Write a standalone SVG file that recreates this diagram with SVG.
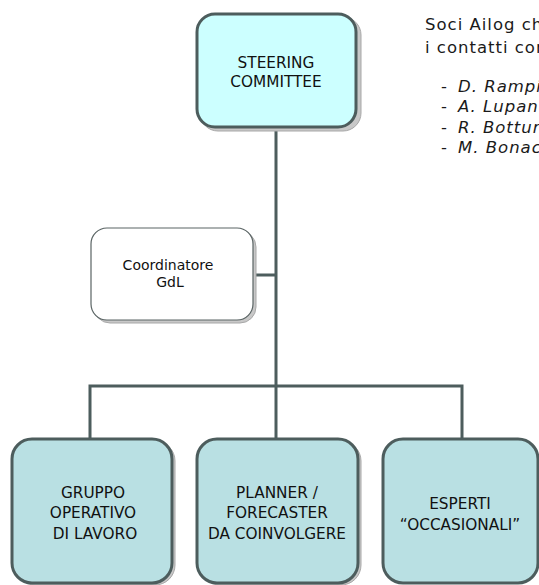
<svg xmlns="http://www.w3.org/2000/svg" width="539" height="585" viewBox="0 0 539 585">
  <defs>
    <style>
      .shadow { fill: #c8c8c8; stroke: #a8a8a8; stroke-width: 1; }
      .box { stroke: #4d5d5d; stroke-width: 3; }
      .top { fill: #ccffff; }
      .team { fill: #b9e0e3; }
      .coord { fill: #ffffff; stroke: #5a6464; stroke-width: 1.2; }
      .lbl { font-family: "DejaVu Sans", Verdana, sans-serif; font-size: 15.3px; fill: #111; text-anchor: middle; }
      .small { font-size: 14px; }
      .note { font-family: "DejaVu Sans", Verdana, sans-serif; font-size: 16.5px; letter-spacing: 1px; fill: #1a1a1a; }
      .it { font-style: italic; }
      .conn { fill: none; stroke: #4d5d5d; stroke-width: 3; }
    </style>
  </defs>
  <rect width="539" height="585" fill="#ffffff"/>

  <!-- connectors -->
  <g id="connectors">
    <path class="conn" d="M276,128 V386"/>
    <path class="conn" d="M90,438 V386 H462 V438"/>
    <path class="conn" d="M276,386 V438"/>
    <path class="conn" d="M253,275 H276"/>
  </g>

  <!-- top node -->
  <g id="steering">
    <rect class="shadow" x="200" y="17" width="161" height="114" rx="18"/>
    <rect class="box top" x="197" y="14" width="159" height="113" rx="18"/>
    <text class="lbl" x="276" y="68">STEERING</text>
    <text class="lbl" x="276" y="87">COMMITTEE</text>
  </g>

  <g id="coordinatore">
    <rect class="shadow" x="94" y="231" width="162" height="92" rx="16"/>
    <rect class="coord" x="91" y="228" width="162" height="92" rx="16"/>
    <text class="lbl small" x="168" y="270">Coordinatore</text>
    <text class="lbl small" x="170" y="287">GdL</text>
  </g>

  <g id="gruppo">
    <rect class="shadow" x="15" y="441" width="160" height="144" rx="20"/>
    <rect class="box team" x="12" y="439" width="160" height="144" rx="20"/>
    <text class="lbl" x="93" y="498">GRUPPO</text>
    <text class="lbl" x="93" y="518">OPERATIVO</text>
    <text class="lbl" x="95" y="539">DI LAVORO</text>
  </g>

  <g id="planner">
    <rect class="shadow" x="200" y="441" width="161" height="144" rx="20"/>
    <rect class="box team" x="197" y="439" width="161" height="144" rx="20"/>
    <text class="lbl" x="277" y="498">PLANNER /</text>
    <text class="lbl" x="277" y="518">FORECASTER</text>
    <text class="lbl" x="277" y="539">DA COINVOLGERE</text>
  </g>

  <g id="esperti">
    <rect class="box team" x="383" y="439" width="155" height="144" rx="20"/>
    <text class="lbl" x="460" y="509">ESPERTI</text>
    <text class="lbl" x="460" y="530">“OCCASIONALI”</text>
  </g>

  <!-- side note, running past the right edge -->
  <g id="soci">
    <text class="note" x="425" y="30">Soci Ailog ch</text>
    <text class="note" x="425" y="53">i contatti con</text>
    <text class="note" x="441" y="92">-</text>
    <text class="note it" x="458" y="92">D. Rampi</text>
    <text class="note" x="441" y="112">-</text>
    <text class="note it" x="458" y="112">A. Lupano</text>
    <text class="note" x="441" y="133">-</text>
    <text class="note it" x="458" y="133">R. Bottura</text>
    <text class="note" x="441" y="153">-</text>
    <text class="note it" x="458" y="153">M. Bonac</text>
  </g>
</svg>
